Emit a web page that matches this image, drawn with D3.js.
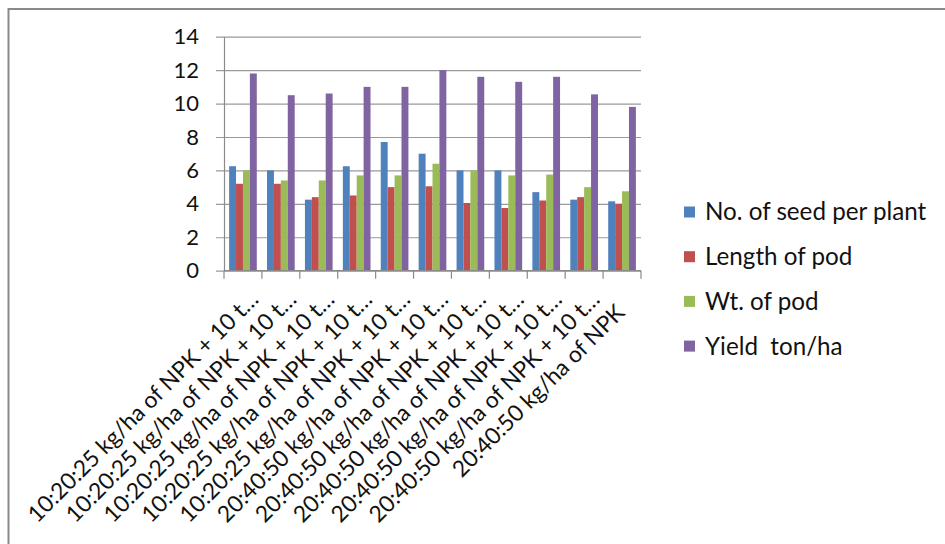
<!DOCTYPE html>
<html>
<head>
<meta charset="utf-8">
<script src="https://cdn.jsdelivr.net/npm/d3@7"></script>
<style>
  html, body { margin: 0; padding: 0; background: #ffffff; }
  svg { display: block; font-family: Lato, "Open Sans", sans-serif; }
</style>
</head>
<body>
<svg id="chart" width="945" height="544"></svg>
<script>
// Treatments (category axis)
const categories = [
  "10:20:25 kg/ha of NPK + 10 t\u2026",
  "10:20:25 kg/ha of NPK + 10 t\u2026",
  "10:20:25 kg/ha of NPK + 10 t\u2026",
  "10:20:25 kg/ha of NPK + 10 t\u2026",
  "10:20:25 kg/ha of NPK + 10 t\u2026",
  "20:40:50 kg/ha of NPK + 10 t\u2026",
  "20:40:50 kg/ha of NPK + 10 t\u2026",
  "20:40:50 kg/ha of NPK + 10 t\u2026",
  "20:40:50 kg/ha of NPK + 10 t\u2026",
  "20:40:50 kg/ha of NPK + 10 t\u2026",
  "20:40:50 kg/ha of NPK"
];

// Series names and colours
const seriesNames = ["No. of seed per plant", "Length of pod", "Wt. of pod", "Yield  ton/ha"];
const seriesColors = ["#4F81BD", "#C0504D", "#9BBB59", "#8064A2"];

// Series values, one entry per treatment
const seedsPerPlant = [6.25, 6.0, 4.25, 6.25, 7.7, 7.0, 6.0, 6.0, 4.7, 4.25, 4.15];
const podLength     = [5.2, 5.2, 4.4, 4.5, 5.0, 5.05, 4.05, 3.75, 4.2, 4.4, 4.0];
const podWeight     = [6.0, 5.4, 5.4, 5.7, 5.7, 6.4, 6.0, 5.7, 5.75, 5.0, 4.75];
const yieldTonHa    = [11.8, 10.5, 10.6, 11.0, 11.0, 12.0, 11.6, 11.3, 11.6, 10.55, 9.8];

// Value axis ticks
const yTicks = [0, 2, 4, 6, 8, 10, 12, 14];

const seriesValues = [seedsPerPlant, podLength, podWeight, yieldTonHa];

const svg = d3.select("#chart");
const W = 945, H = 544;

// Chart frame (top and left edges of the chart box)
svg.append("line").attr("x1", 8).attr("x2", W).attr("y1", 9).attr("y2", 9)
  .attr("stroke", "#8a8a8a").attr("stroke-width", 2);
svg.append("line").attr("x1", 8.5).attr("x2", 8.5).attr("y1", 8).attr("y2", H)
  .attr("stroke", "#8a8a8a").attr("stroke-width", 2);

const plot = { left: 224, right: 641, top: 36.7, bottom: 270.7 };

const y = d3.scaleLinear().domain([0, 14]).range([plot.bottom, plot.top]);
const x0 = d3.scaleBand().domain(d3.range(categories.length))
  .range([plot.left, plot.right]).paddingInner(0).paddingOuter(0);
const gap = x0.bandwidth() * 0.27;
const x1 = d3.scaleBand().domain(d3.range(seriesNames.length))
  .range([gap / 2, x0.bandwidth() - gap / 2]).padding(0);

// Horizontal gridlines with short ticks left of the axis
const grid = svg.append("g").attr("transform", `translate(${plot.left},0)`)
  .call(d3.axisLeft(y).tickValues(yTicks).tickFormat("")
    .tickSizeInner(-(plot.right - plot.left)).tickSizeOuter(0));
grid.select(".domain").remove();
grid.selectAll(".tick line").attr("stroke", "#9a9a9a").attr("stroke-width", 1.2)
  .attr("x1", -8);

// Value axis labels
const yAxis = svg.append("g").attr("transform", `translate(${plot.left},0)`)
  .call(d3.axisLeft(y).tickValues(yTicks).tickSize(0).tickPadding(25));
yAxis.select(".domain").attr("stroke", "#8a8a8a").attr("stroke-width", 1.2);
yAxis.selectAll(".tick text")
  .attr("font-family", "Lato, sans-serif").attr("font-size", 22).attr("fill", "#111");

// Bars
const groups = svg.append("g").selectAll("g")
  .data(categories.map((c, i) => i)).join("g")
  .attr("transform", i => `translate(${x0(i)},0)`);
groups.selectAll("rect")
  .data(i => seriesValues.map((vals, s) => ({ s, v: vals[i] })))
  .join("rect")
  .attr("x", d => x1(d.s))
  .attr("width", x1.bandwidth())
  .attr("y", d => y(d.v))
  .attr("height", d => y(0) - y(d.v))
  .attr("fill", d => seriesColors[d.s]);

// Category axis with tick marks between categories
svg.append("line").attr("x1", plot.left).attr("x2", plot.right)
  .attr("y1", plot.bottom).attr("y2", plot.bottom)
  .attr("stroke", "#8a8a8a").attr("stroke-width", 1.2);
svg.append("g").selectAll("line")
  .data(d3.range(categories.length + 1)).join("line")
  .attr("x1", i => plot.left + i * x0.bandwidth())
  .attr("x2", i => plot.left + i * x0.bandwidth())
  .attr("y1", plot.bottom).attr("y2", plot.bottom + 8)
  .attr("stroke", "#8a8a8a").attr("stroke-width", 1.2);

// Rotated category labels; labels shown in full sit a little further from the axis
svg.append("g").selectAll("text")
  .data(categories).join("text")
  .attr("transform", (d, i) => {
    const back = d.endsWith("\u2026") ? 0 : 13;
    const ax = x0(i) + x0.bandwidth() / 2 + 17 - back;
    const ay = 301 + back;
    return `translate(${ax},${ay}) rotate(-45)`;
  })
  .attr("text-anchor", "end")
  .attr("font-family", "Lato, sans-serif").attr("font-size", 22.8).attr("fill", "#111")
  .text(d => d);

// Legend
const legend = svg.append("g").attr("transform", "translate(684,212)");
const items = legend.selectAll("g").data(seriesNames).join("g")
  .attr("transform", (d, i) => `translate(0,${i * 44.7})`);
items.append("rect").attr("x", 0).attr("y", -5.5).attr("width", 11).attr("height", 11)
  .attr("fill", (d, i) => seriesColors[i]);
items.append("text").attr("x", 21).attr("dy", "0.35em")
  .attr("font-family", "Lato, sans-serif").attr("font-size", 24.2).attr("fill", "#111")
  .attr("xml:space", "preserve").style("white-space", "pre")
  .text(d => d);
</script>
</body>
</html>
